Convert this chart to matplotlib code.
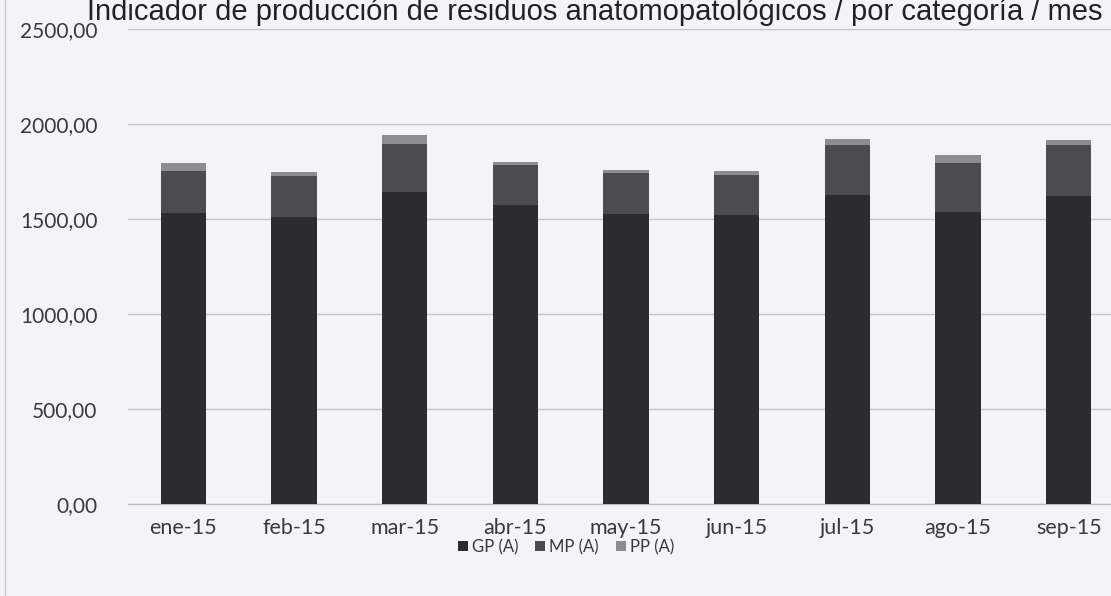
import matplotlib

matplotlib.use("Agg")
import matplotlib.pyplot as plt
import numpy as np
from matplotlib.patches import Rectangle

# monthly waste production per category (kg)
months = ["ene-15", "feb-15", "mar-15", "abr-15", "may-15", "jun-15", "jul-15", "ago-15", "sep-15"]
gp = [1533, 1512, 1644, 1574, 1528, 1520, 1626, 1535, 1621]
mp = [221, 214, 249, 210, 212, 212, 263, 258, 268]
pp = [42, 23, 49, 17, 18, 22, 32, 44, 27]
yticks = [0, 500, 1000, 1500, 2000, 2500]

SERIES = [("GP (A)", gp, "#2c2c30"), ("MP (A)", mp, "#4b4b50"), ("PP (A)", pp, "#8c8c94")]
BG = "#f3f3f8"
TXT = "#3a3a3a"

fig = plt.figure(figsize=(11.11, 5.96), dpi=100, facecolor=BG)
ax = fig.add_axes([128 / 1111, 1 - 504 / 596, 996 / 1111, 475 / 596])
ax.set_facecolor(BG)

x = np.arange(len(months))
bottom = np.zeros(len(months))
for name, vals, color in SERIES:
    vals = np.array(vals, dtype=float)
    ax.bar(x, vals, width=0.41, bottom=bottom, color=color, label=name, zorder=3)
    bottom += vals

ax.set_xlim(-0.5, len(months) - 0.5)
ax.set_ylim(0, 2500)
ax.set_yticks(yticks)
ax.set_yticklabels([f"{v},00" for v in yticks], fontsize=15, color=TXT, family="Lato")
ax.set_xticks(x)
ax.set_xticklabels(months, fontsize=15.5, color=TXT, family="Lato")
ax.tick_params(length=0, pad=22, axis="y")
ax.tick_params(length=0, pad=10, axis="x")
ax.grid(axis="y", color="#c4c4c8", lw=1, zorder=0)
for s in ("top", "right", "left"):
    ax.spines[s].set_visible(False)
ax.spines["bottom"].set_color("#b8b8bc")

# the scan crops the title; keep it whole, tucked against the top edge
fig.text(0.535, 1 - 20 / 596, "Indicador de producción de residuos anatomopatológicos / por categoría / mes",
         ha="center", va="baseline", fontsize=21, family="Liberation Sans", color="#222")

leg = fig.legend(loc="center", bbox_to_anchor=(566 / 1111, 1 - 547 / 596), ncol=3, frameon=False,
                 handlelength=0.6, handleheight=0.6, handletextpad=0.25, columnspacing=1.0,
                 prop={"family": "Lato", "size": 12})
for t in leg.get_texts():
    t.set_color(TXT)

fig.add_artist(Rectangle((5 / 1111, -0.01), 1.1, 1.1, transform=fig.transFigure,
                         fill=False, edgecolor="#c8c8cc", lw=1))

fig.savefig("out.png", dpi=100, facecolor=BG)
